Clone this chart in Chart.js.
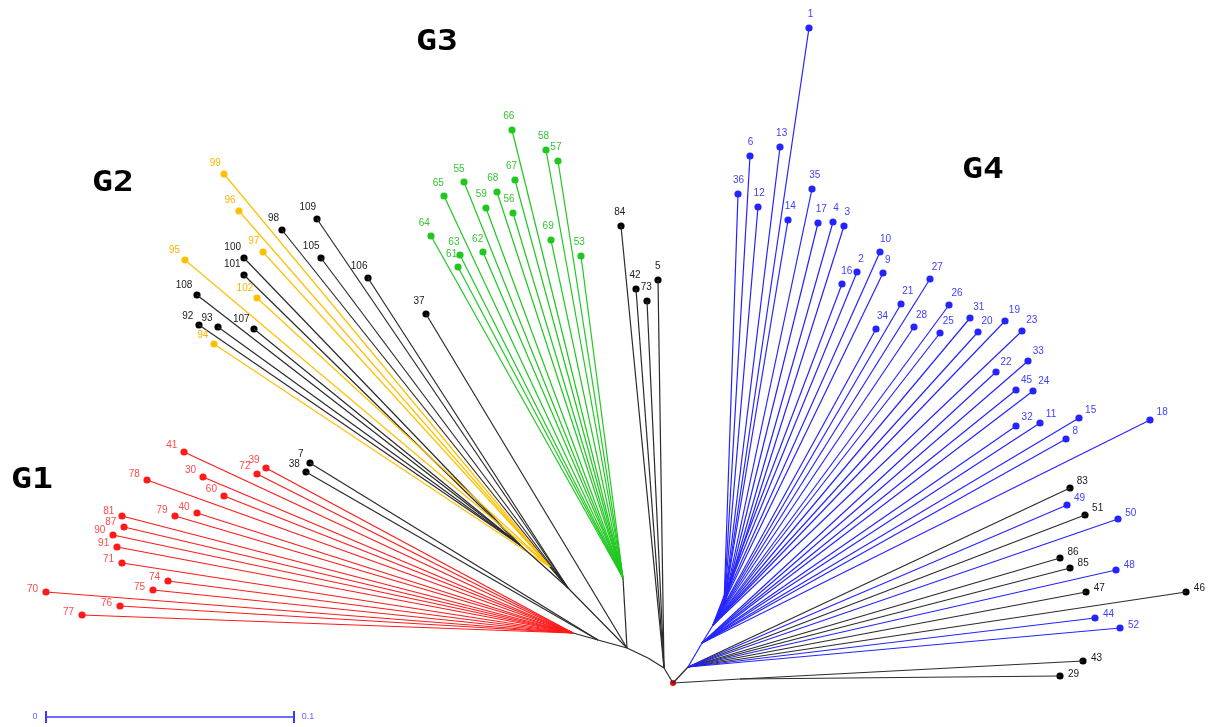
<!DOCTYPE html>
<html>
<head>
<meta charset="utf-8">
<script src="https://cdn.jsdelivr.net/npm/chart.js@4/dist/chart.umd.min.js"></script>
<style>
  html, body { margin: 0; padding: 0; background: #fff; }
  #wrap { width: 1208px; height: 727px; }
</style>
</head>
<body>
<div id="wrap"><canvas id="treeChart" width="1208" height="727"></canvas></div>
<script>
// leaves of the tree, one block per cluster (number, x, y on the tree layout)
const redIds = ['41','39','72','78','30','60','79','40','81','87','90','91','71','74','75','70','76','77'];
const redX   = [184, 266, 257, 147, 203, 224, 175, 197, 122, 124, 113, 117, 122, 168, 153, 46, 120, 82];
const redY   = [452, 468, 474, 480, 477, 496, 516, 513, 516, 527, 535, 547, 563, 581, 590, 592, 606, 615];

const g1BlackIds = ['7','38'];
const g1BlackX   = [310, 306];
const g1BlackY   = [463, 472];

const yellowIds = ['99','96','97','95','102','94'];
const yellowX   = [224, 239, 263, 185, 257, 214];
const yellowY   = [174, 211, 252, 260, 298, 344];

const g2TopIds = ['98','109','105','106'];
const g2TopX   = [282, 317, 321, 368];
const g2TopY   = [230, 219, 258, 278];

const g2LowIds = ['100','101','108','92','93','107'];
const g2LowX   = [244, 244, 197, 199, 218, 254];
const g2LowY   = [258, 275, 295, 325, 327, 329];

const soloIds = ['37'];
const soloX   = [426];
const soloY   = [314];

const greenIds = ['66','58','57','55','67','65','68','59','56','64','69','63','62','61','53'];
const greenX   = [512, 546, 558, 464, 515, 444, 497, 486, 513, 431, 551, 460, 483, 458, 581];
const greenY   = [130, 150, 161, 182, 180, 196, 192, 208, 213, 236, 240, 255, 252, 267, 256];

const midIds = ['84','42','73','5'];
const midX   = [621, 636, 647, 658];
const midY   = [226, 289, 301, 280];

const blueTopIds = ['1','13','6','36','12','35','14','17','4','3'];
const blueTopX   = [809, 780, 750, 738, 758, 812, 788, 818, 833, 844];
const blueTopY   = [28, 147, 156, 194, 207, 189, 220, 223, 222, 226];

const blueMidIds = ['10','2','9','16','27','21','26','31','34','28','25','20','19','23'];
const blueMidX   = [880, 857, 883, 842, 930, 901, 949, 970, 876, 914, 940, 978, 1005, 1022];
const blueMidY   = [252, 272, 273, 284, 279, 304, 305, 318, 329, 327, 333, 332, 321, 331];

const blueLowIds = ['33','22','45','24','32','11','15','8','18'];
const blueLowX   = [1028, 996, 1016, 1033, 1016, 1040, 1079, 1066, 1150];
const blueLowY   = [361, 372, 390, 391, 426, 423, 418, 439, 420];

const blueBaseIds = ['49','50','48','44','52'];
const blueBaseX   = [1067, 1118, 1116, 1095, 1120];
const blueBaseY   = [505, 519, 570, 618, 628];

const g4BlackIds = ['83','51','86','85','47','46'];
const g4BlackX   = [1070, 1085, 1060, 1070, 1086, 1186];
const g4BlackY   = [488, 515, 558, 568, 592, 592];

const outIds = ['43','29'];
const outX   = [1083, 1060];
const outY   = [661, 676];

// internal nodes and their parents
const nodeIds    = ['R', 'A', 'B', 'C', 'G', 'D', 'E', 'H', 'Y', 'K', 'M', 'M2', 'M3', 'M4', 'P'];
const nodeX      = [673, 664, 648, 627, 623, 598, 573, 568, 550, 520, 688, 702, 713, 724, 740];
const nodeY      = [683, 668, 658, 648, 578, 640, 633, 588, 567, 545, 667, 643, 625, 605, 679];
const nodeParent = [null, 'R', 'A', 'B', 'C', 'C', 'D', 'C', 'H', 'H', 'R', 'M', 'M2', 'M3', 'R'];
const nodeColor  = ['black','black','black','black','black','black','black','black','black','black','black','blue','blue','blue','black'];

// scale bar and group titles
const scaleBarTicks = ['0', '0.1'];
const scaleBarX = [46, 294];
const scaleBarY = 717;
const groupNames = ['G1', 'G2', 'G3', 'G4'];

const lineColors  = { red: '#ff1a1a', black: '#2b2b2b', yellow: '#ffc000', green: '#1ec81e', blue: '#2424ff' };
const labelColors = { red: '#ff4a4a', black: '#1a1a1a', yellow: '#ffb400', green: '#35c435', blue: '#4040ff' };

const clusters = [
    { ids: redIds,      xs: redX,      ys: redY,      parent: 'E',  color: 'red' },
    { ids: g1BlackIds,  xs: g1BlackX,  ys: g1BlackY,  parent: 'D',  color: 'black' },
    { ids: yellowIds,   xs: yellowX,   ys: yellowY,   parent: 'Y',  color: 'yellow' },
    { ids: g2TopIds,    xs: g2TopX,    ys: g2TopY,    parent: 'H',  color: 'black' },
    { ids: g2LowIds,    xs: g2LowX,    ys: g2LowY,    parent: 'K',  color: 'black' },
    { ids: soloIds,     xs: soloX,     ys: soloY,     parent: 'C',  color: 'black' },
    { ids: greenIds,    xs: greenX,    ys: greenY,    parent: 'G',  color: 'green' },
    { ids: midIds,      xs: midX,      ys: midY,      parent: 'A',  color: 'black' },
    { ids: blueTopIds,  xs: blueTopX,  ys: blueTopY,  parent: 'M4', color: 'blue' },
    { ids: blueMidIds,  xs: blueMidX,  ys: blueMidY,  parent: 'M3', color: 'blue' },
    { ids: blueLowIds,  xs: blueLowX,  ys: blueLowY,  parent: 'M2', color: 'blue' },
    { ids: blueBaseIds, xs: blueBaseX, ys: blueBaseY, parent: 'M',  color: 'blue' },
    { ids: g4BlackIds,  xs: g4BlackX,  ys: g4BlackY,  parent: 'M',  color: 'black' },
    { ids: outIds,      xs: outX,      ys: outY,      parent: 'P',  color: 'black' }
];

const nodeAt = id => {
    const i = nodeIds.indexOf(id);
    return { x: nodeX[i], y: nodeY[i] };
};

const edge = (from, to, color) => ({
    data: [from, to],
    showLine: true,
    borderColor: lineColors[color],
    borderWidth: 1.2,
    pointRadius: 0,
    fill: false
});

const datasets = [];

// branches between internal nodes
nodeIds.forEach((id, i) => {
    if (!nodeParent[i]) return;
    datasets.push(edge(nodeAt(nodeParent[i]), { x: nodeX[i], y: nodeY[i] }, nodeColor[i]));
});

// branches to the leaves
clusters.forEach(c => {
    const p = nodeAt(c.parent);
    c.ids.forEach((id, j) => datasets.push(edge(p, { x: c.xs[j], y: c.ys[j] }, c.color)));
});

// leaf dots (with labels)
clusters.forEach(c => {
    const p = nodeAt(c.parent);
    datasets.push({
        data: c.ids.map((id, j) => ({ x: c.xs[j], y: c.ys[j] })),
        leafIds: c.ids,
        leafColor: c.color,
        parentPt: p,
        showLine: false,
        pointRadius: 3.6,
        pointBackgroundColor: c.color === 'black' ? '#000' : lineColors[c.color],
        pointBorderWidth: 0
    });
});

// root dot
datasets.push({
    data: [nodeAt('R')],
    showLine: false,
    pointRadius: 3,
    pointBackgroundColor: '#ff0000',
    pointBorderWidth: 0
});

// scale bar
datasets.push({
    data: scaleBarX.map(x => ({ x: x, y: scaleBarY })),
    showLine: true,
    borderColor: '#3a3aff',
    borderWidth: 1.3,
    pointStyle: 'line',
    rotation: 90,
    pointRadius: 6,
    pointBorderColor: '#3a3aff',
    pointBorderWidth: 2,
    scaleBar: true
});

const leafLabels = {
    id: 'leafLabels',
    afterDatasetsDraw(chart) {
        const ctx = chart.ctx;
        const sx = chart.scales.x, sy = chart.scales.y;
        ctx.save();
        ctx.font = '10px "Liberation Sans", Arial, sans-serif';
        ctx.textAlign = 'center';
        ctx.textBaseline = 'middle';
        chart.data.datasets.forEach((ds, i) => {
            const meta = chart.getDatasetMeta(i);
            if (ds.leafIds) {
                const px = sx.getPixelForValue(ds.parentPt.x);
                const py = sy.getPixelForValue(ds.parentPt.y);
                ctx.fillStyle = labelColors[ds.leafColor];
                meta.data.forEach((pt, j) => {
                    const ang = Math.atan2(py - pt.y, pt.x - px);
                    const w = ctx.measureText(ds.leafIds[j]).width;
                    const rx = 8 + w / 2;
                    const ry = 12;
                    ctx.fillText(ds.leafIds[j], pt.x + rx * Math.cos(ang), pt.y - ry * Math.sin(ang) - 2);
                });
            }
            if (ds.scaleBar) {
                ctx.fillStyle = '#6a5cff';
                ctx.font = '9px "Liberation Sans", Arial, sans-serif';
                ctx.fillText(scaleBarTicks[0], meta.data[0].x - 11, meta.data[0].y);
                ctx.fillText(scaleBarTicks[1], meta.data[1].x + 14, meta.data[1].y);
            }
        });
        ctx.restore();
    }
};

const groupTitles = {
    id: 'groupTitles',
    afterDatasetsDraw(chart, args, opts) {
        const ctx = chart.ctx;
        const sx = chart.scales.x, sy = chart.scales.y;
        ctx.save();
        ctx.font = 'bold 29px "DejaVu Sans Mono", monospace';
        ctx.fillStyle = '#000';
        ctx.textAlign = 'center';
        ctx.textBaseline = 'middle';
        groupNames.forEach((g, i) => {
            const x = sx.getPixelForValue(opts.x[i]);
            const y = sy.getPixelForValue(opts.y[i]);
            ctx.save();
            ctx.translate(x, y);
            ctx.scale(1.2, 1);
            ctx.fillText(g, 0, 0);
            ctx.restore();
        });
        ctx.restore();
    }
};

new Chart(document.getElementById('treeChart'), {
    type: 'scatter',
    data: { datasets: datasets },
    options: {
        responsive: false,
        animation: false,
        layout: { padding: 0, autoPadding: false },
        scales: {
            x: { type: 'linear', min: 0, max: 1208, display: false },
            y: { type: 'linear', min: 0, max: 727, reverse: true, display: false }
        },
        plugins: {
            legend: { display: false },
            tooltip: { enabled: false },
            groupTitles: { x: [32, 113, 437, 983], y: [480, 183, 42, 170] }
        }
    },
    plugins: [leafLabels, groupTitles]
});
</script>
</body>
</html>
